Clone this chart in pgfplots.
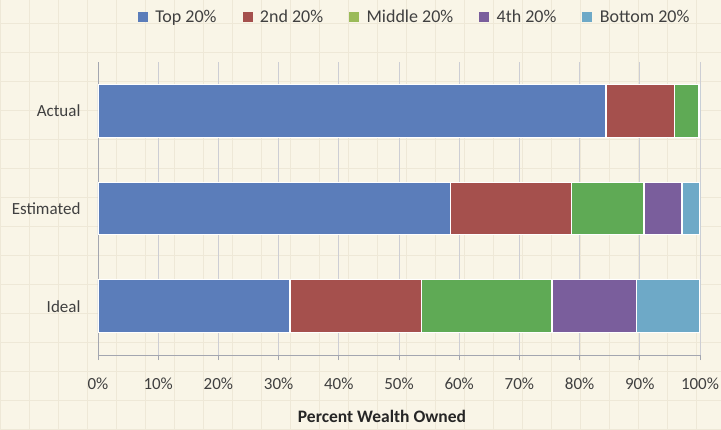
\documentclass[border=0pt]{standalone}
\usepackage{pgfplots}
\pgfplotsset{compat=1.18}
\usepackage{fontspec}
\setmainfont{Carlito}
\definecolor{bgc}{HTML}{F9F5E7}
\definecolor{gridpaper}{HTML}{EEE8D7}
\definecolor{topc}{HTML}{5B7DBA}
\definecolor{secc}{HTML}{A5504D}
\definecolor{midc}{HTML}{5FAA55}
\definecolor{midleg}{HTML}{9BBB59}
\definecolor{fourc}{HTML}{7A5E9C}
\definecolor{botc}{HTML}{6EA9C7}
\definecolor{axc}{HTML}{A3A6B0}
\definecolor{txt}{HTML}{404040}
\begin{document}
\begin{tikzpicture}[x=1pt,y=1pt]
\useasboundingbox (0,0) rectangle (721,429);
\fill[bgc] (0,0) rectangle (721,429);
\draw[gridpaper, line width=0.6pt, step=29] (0,0) grid (721,429);
\begin{axis}[
  at={(98pt,74pt)}, anchor=south west,
  scale only axis, width=602pt, height=293pt,
  xbar stacked, bar width=0.54,
  xmin=0, xmax=100, ymin=-0.5, ymax=2.5,
  axis x line*=bottom, axis y line*=left,
  axis line style={axc, line width=0.8pt, -},
  xtick={0,10,...,100},
  xticklabel={\pgfmathprintnumber{\tick}\%},
  xticklabel style={font=\fontsize{17}{20}\selectfont, text=txt, yshift=-14pt},
  xmajorgrids, grid style={axc!55, line width=0.8pt},
  major x tick style={axc, line width=0.8pt},
  tick align=outside, major tick length=5pt,
  ytick={0,1,2}, yticklabels={Ideal,Estimated,Actual},
  major y tick style={draw=none},
  extra y ticks={-0.5,0.5,1.5,2.5}, extra y tick labels={},
  extra y tick style={major tick style={axc, line width=0.8pt, draw=axc}, grid=none},
  yticklabel style={font=\fontsize{17}{20}\selectfont, text=txt, xshift=-9pt},
  xlabel={\bfseries Percent Wealth Owned},
  xlabel style={font=\fontsize{17.5}{20}\selectfont, text=black!85, yshift=-14pt, xshift=-17pt},
  /pgf/number format/assume math mode=true,
  legend columns=5,
  legend style={at={(0.526,1)}, anchor=center, yshift=45pt, draw=none, fill=none,
    font=\fontsize{18}{21}\selectfont, text=txt,
    /tikz/every odd column/.append style={column sep=6pt},
    /tikz/every even column/.append style={column sep=24pt}},
  legend cell align=left,
]
\addlegendimage{legend image code/.code={\fill[topc] (0pt,-4pt) rectangle (9pt,5pt);}}
\addlegendentry{Top 20\%}
\addlegendimage{legend image code/.code={\fill[secc] (0pt,-4pt) rectangle (9pt,5pt);}}
\addlegendentry{2nd 20\%}
\addlegendimage{legend image code/.code={\fill[midleg] (0pt,-4pt) rectangle (9pt,5pt);}}
\addlegendentry{Middle 20\%}
\addlegendimage{legend image code/.code={\fill[fourc] (0pt,-4pt) rectangle (9pt,5pt);}}
\addlegendentry{4th 20\%}
\addlegendimage{legend image code/.code={\fill[botc] (0pt,-4pt) rectangle (9pt,5pt);}}
\addlegendentry{Bottom 20\%}
\addplot[fill=topc, draw=white, line width=1.2pt, forget plot] coordinates {(31.9,0) (58.5,1) (84.4,2)};
\addplot[fill=secc, draw=white, line width=1.2pt, forget plot] coordinates {(21.9,0) (20.1,1) (11.4,2)};
\addplot[fill=midc, draw=white, line width=1.2pt, forget plot] coordinates {(21.6,0) (12.1,1) (3.9,2)};
\addplot[fill=fourc, draw=white, line width=1.2pt, forget plot] coordinates {(14.1,0) (6.3,1) (0.2,2)};
\addplot[fill=botc, draw=white, line width=1.2pt, forget plot] coordinates {(10.5,0) (3.0,1) (0.1,2)};
\end{axis}
\end{tikzpicture}
\end{document}
